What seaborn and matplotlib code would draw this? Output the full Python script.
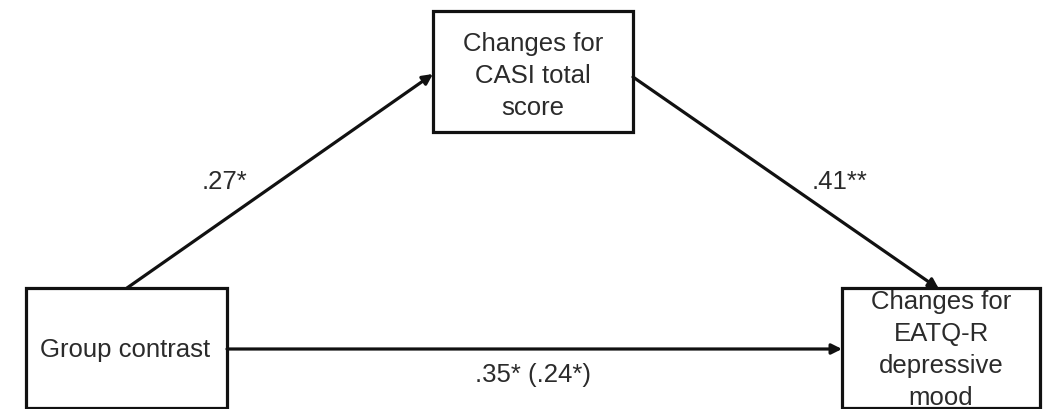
import seaborn as sns
import matplotlib.pyplot as plt
from matplotlib.patches import Rectangle

# diagram content
node_names = ["x", "m", "y"]
node_labels = ["Group contrast", "Changes for\nCASI total\nscore", "Changes for\nEATQ-R\ndepressive\nmood"]
edge_from = ["x", "m", "x"]
edge_to = ["m", "y", "y"]
edge_labels = [".27*", ".41**", ".35* (.24*)"]

# layout in pixels (x0, y0, x1, y1), y grows downward
boxes = {
    "x": (26, 289, 227, 409),
    "m": (433, 12, 633, 133),
    "y": (842, 289, 1040, 409),
}
text_pos = {"x": (125, 350), "m": (533, 76), "y": (941, 350)}
edge_pts = {
    ("x", "m"): ((127, 289), (433, 75)),
    ("m", "y"): ((633, 78), (939, 290)),
    ("x", "y"): ((227, 350), (842, 350)),
}
label_pos = [(225, 182), (840, 182), (533, 375)]

sns.set_theme(style="white")
plt.rcParams['font.family'] = ['Liberation Sans', 'DejaVu Sans']

fig = plt.figure(figsize=(10.48, 4.10), dpi=100)
ax = fig.add_axes([0, 0, 1, 1])
ax.set_xlim(0, 1048)
ax.set_ylim(410, 0)
ax.axis("off")

ink = "#111111"
txt = "#2b2b2b"
fs = 18.5

for name, label in zip(node_names, node_labels):
    x0, y0, x1, y1 = boxes[name]
    ax.add_patch(Rectangle((x0, y0), x1 - x0, y1 - y0, fill=False,
                           edgecolor=ink, linewidth=2.3, clip_on=False))
    tx, ty = text_pos[name]
    ax.text(tx, ty, label, ha="center", va="center", fontsize=fs,
            color=txt, linespacing=1.42)

for src, dst, lab, (lx, ly) in zip(edge_from, edge_to, edge_labels, label_pos):
    p0, p1 = edge_pts[(src, dst)]
    ax.annotate("", xy=p1, xytext=p0,
                arrowprops=dict(arrowstyle="-|>", color=ink, lw=2.3,
                                mutation_scale=15, shrinkA=0, shrinkB=0))
    ax.text(lx, ly, lab, ha="center", va="center", fontsize=fs, color=txt)

fig.savefig("out.png", dpi=100, facecolor="white")
